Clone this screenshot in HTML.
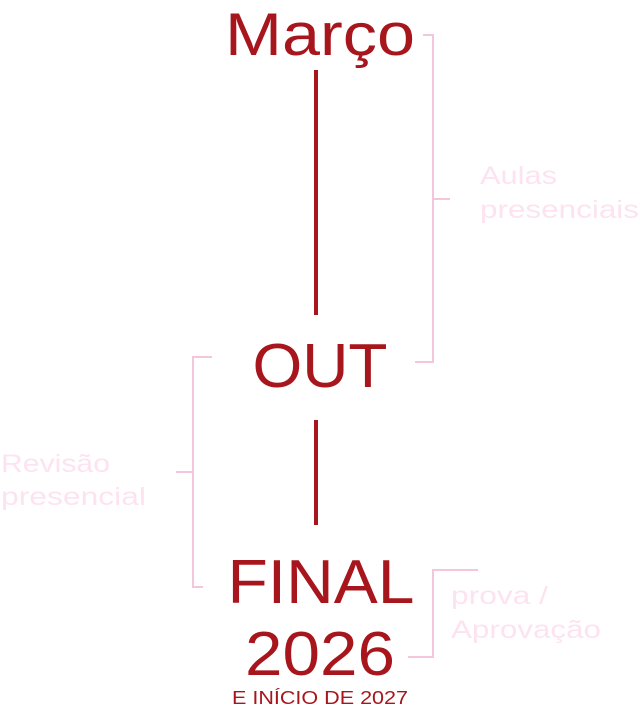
<!DOCTYPE html>
<html><head><meta charset="utf-8"><style>
html,body{margin:0;padding:0;background:#fff;}
svg{display:block;}
text{font-family:"Liberation Sans",sans-serif;}
</style></head><body>
<svg width="640" height="712" viewBox="0 0 640 712" xmlns="http://www.w3.org/2000/svg">
<g fill="#a8161d">
<text x="320" y="55" font-size="60" text-anchor="middle" textLength="190" lengthAdjust="spacingAndGlyphs">Março</text>
<text x="320" y="387" font-size="62" text-anchor="middle" textLength="135" lengthAdjust="spacingAndGlyphs">OUT</text>
<text x="321" y="603" font-size="62" text-anchor="middle" textLength="187" lengthAdjust="spacingAndGlyphs">FINAL</text>
<text x="320" y="675" font-size="62" text-anchor="middle" textLength="150" lengthAdjust="spacingAndGlyphs">2026</text>
<text x="320" y="704" font-size="18" text-anchor="middle" textLength="176" lengthAdjust="spacingAndGlyphs">E INÍCIO DE 2027</text>
</g>
<g stroke="#a8161d" stroke-width="4">
<line x1="316" y1="70" x2="316" y2="315"/>
<line x1="316" y1="420" x2="316" y2="525"/>
</g>
<g stroke="#f4c6dc" stroke-width="2" fill="none">
<polyline points="423,35 433,35 433,362 415,362"/>
<line x1="433" y1="199" x2="450" y2="199"/>
<polyline points="212,357 193,357 193,587 203,587"/>
<line x1="176" y1="472" x2="193" y2="472"/>
<polyline points="478,570 433,570 433,657 408,657"/>
</g>
<g fill="#fde3f0" font-size="25" lengthAdjust="spacingAndGlyphs">
<text x="480" y="184" textLength="77" lengthAdjust="spacingAndGlyphs">Aulas</text>
<text x="480" y="218" textLength="159" lengthAdjust="spacingAndGlyphs">presenciais</text>
<text x="1" y="472" textLength="109" lengthAdjust="spacingAndGlyphs">Revisão</text>
<text x="1" y="505" textLength="145" lengthAdjust="spacingAndGlyphs">presencial</text>
<text x="451" y="604" textLength="97" lengthAdjust="spacingAndGlyphs">prova /</text>
<text x="451" y="638" textLength="150" lengthAdjust="spacingAndGlyphs">Aprovação</text>
</g>
</svg>
</body></html>
